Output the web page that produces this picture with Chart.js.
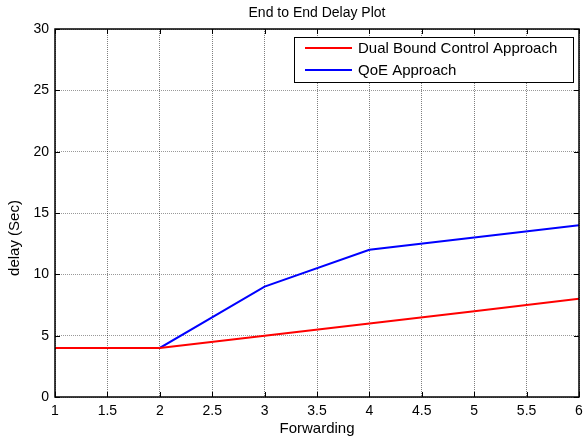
<!DOCTYPE html>
<html>
<head>
<meta charset="utf-8">
<script src="https://cdn.jsdelivr.net/npm/chart.js@4.4.1/dist/chart.umd.min.js"></script>
<style>
  html, body { margin: 0; padding: 0; background: #fff; }
  #wrap { width: 583px; height: 440px; }
</style>
</head>
<body>
<div id="wrap"><canvas id="delayChart" width="583" height="440"></canvas></div>
<script>
const forwarding = [1, 2, 3, 4, 5, 6];
const dualBound = [4, 4, 5, 6, 7, 8];
const qoe = [4, 4, 9, 12, 13, 14];
const xTicks = [1, 1.5, 2, 2.5, 3, 3.5, 4, 4.5, 5, 5.5, 6];
const yTicks = [0, 5, 10, 15, 20, 25, 30];

const FONT = 'Liberation Sans, Arial, sans-serif';

// box around the plot plus inward tick marks, MATLAB style
const boxPlugin = {
    id: 'box',
    afterDatasetsDraw(chart) {
        const { ctx, chartArea: a, scales } = chart;
        ctx.save();
        ctx.strokeStyle = '#000';
        ctx.lineWidth = 1;
        ctx.beginPath();
        xTicks.forEach(v => {
            const x = Math.round(scales.x.getPixelForValue(v)) + 0.5;
            ctx.moveTo(x, a.bottom); ctx.lineTo(x, a.bottom - 5);
            ctx.moveTo(x, a.top); ctx.lineTo(x, a.top + 5);
        });
        yTicks.forEach(v => {
            const y = Math.round(scales.y.getPixelForValue(v)) + 0.5;
            ctx.moveTo(a.left, y); ctx.lineTo(a.left + 5, y);
            ctx.moveTo(a.right, y); ctx.lineTo(a.right - 5, y);
        });
        ctx.stroke();
        ctx.lineWidth = 1.5;
        ctx.strokeRect(a.left, a.top, a.right - a.left, a.bottom - a.top);
        ctx.restore();
    }
};

// legend box in the upper right corner
const legendPlugin = {
    id: 'boxLegend',
    afterDraw(chart) {
        const { ctx } = chart;
        const x0 = 294, y0 = 37, w = 279, h = 45;
        ctx.save();
        ctx.fillStyle = '#fff';
        ctx.fillRect(x0, y0, w, h);
        ctx.strokeStyle = '#000';
        ctx.lineWidth = 1;
        ctx.strokeRect(x0 + 0.5, y0 + 0.5, w, h);
        ctx.font = '15px ' + FONT;
        ctx.textBaseline = 'middle';
        chart.data.datasets.forEach((ds, i) => {
            const y = y0 + 11 + i * 22;
            ctx.strokeStyle = ds.borderColor;
            ctx.lineWidth = 2;
            ctx.beginPath();
            ctx.moveTo(x0 + 11, y);
            ctx.lineTo(x0 + 58, y);
            ctx.stroke();
            ctx.fillStyle = '#000';
            ctx.fillText(ds.label, x0 + 64, y + 1);
        });
        ctx.restore();
    }
};

// title and y axis label, placed like the original
const textPlugin = {
    id: 'texts',
    afterDraw(chart) {
        const c = chart.ctx;
        c.save();
        c.fillStyle = '#000';
        c.textAlign = 'center';
        c.textBaseline = 'middle';
        c.font = '14px ' + FONT;
        c.fillText('End to End Delay Plot', (chart.chartArea.left + chart.chartArea.right) / 2, 13);
        c.font = '15px ' + FONT;
        c.translate(15, 238);
        c.rotate(-Math.PI / 2);
        c.fillText('delay (Sec)', 0, 0);
        c.restore();
    }
};

const ctx = document.getElementById('delayChart').getContext('2d');
new Chart(ctx, {
    type: 'line',
    data: {
        datasets: [
            {
                label: 'Dual Bound Control Approach',
                data: forwarding.map((f, i) => ({ x: f, y: dualBound[i] })),
                borderColor: '#ff0000',
                borderWidth: 2,
                pointRadius: 0,
                tension: 0
            },
            {
                label: 'QoE Approach',
                data: forwarding.map((f, i) => ({ x: f, y: qoe[i] })),
                borderColor: '#0000ff',
                borderWidth: 2,
                pointRadius: 0,
                tension: 0
            }
        ]
    },
    options: {
        responsive: false,
        animation: false,
        layout: { padding: { top: 29, right: 4, left: 0, bottom: 0 } },
        plugins: {
            legend: { display: false },
            tooltip: { enabled: false },
            title: { display: false }
        },
        scales: {
            x: {
                type: 'linear',
                min: 1,
                max: 6,
                afterFit(scale) { scale.height = 43; scale.paddingRight = 0; },
                afterBuildTicks(scale) { scale.ticks = xTicks.map(v => ({ value: v })); },
                grid: { color: 'rgba(0,0,0,0.5)', drawTicks: false, tickLength: 0 },
                border: { display: false, dash: [1, 1] },
                ticks: {
                    color: '#000',
                    font: { family: FONT, size: 14 },
                    padding: 6,
                    maxRotation: 0,
                    autoSkip: false,
                    callback: v => String(v)
                },
                title: {
                    display: true,
                    text: 'Forwarding',
                    color: '#000',
                    font: { family: FONT, size: 15 },
                    padding: { top: 0, bottom: 2 }
                }
            },
            y: {
                min: 0,
                max: 30,
                afterFit(scale) { scale.width = 55; },
                afterBuildTicks(scale) { scale.ticks = yTicks.map(v => ({ value: v })); },
                grid: { color: 'rgba(0,0,0,0.4)', drawTicks: false, tickLength: 0 },
                border: { display: false, dash: [1, 1] },
                ticks: {
                    color: '#000',
                    font: { family: FONT, size: 14 },
                    padding: 6,
                    callback: v => String(v)
                },
                title: { display: false }
            }
        }
    },
    plugins: [boxPlugin, legendPlugin, textPlugin]
});
</script>
</body>
</html>
